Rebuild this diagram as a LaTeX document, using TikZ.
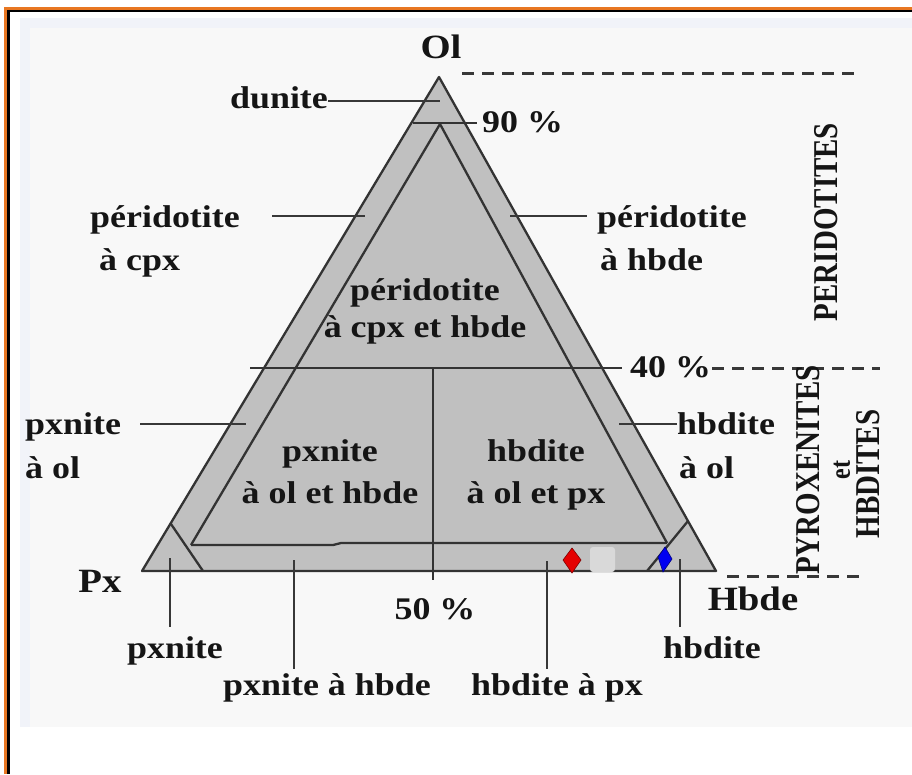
\documentclass[tikz,border=0pt]{standalone}
\usepackage{fontspec}
\setmainfont{Liberation Serif}[FakeStretch=1.14]
\newfontfamily\rotfont{Liberation Serif}
\definecolor{frameorange}{HTML}{E87722}
\definecolor{panelbg}{HTML}{F8F8F8}
\definecolor{panelblue}{HTML}{F1F3F9}
\definecolor{trifill}{HTML}{C0C0C0}
\definecolor{triline}{HTML}{333333}
\definecolor{txt}{HTML}{151515}
\definecolor{patch}{HTML}{D9D9D9}
\tikzset{
  lbl/.style={font=\fontsize{31.5}{33}\selectfont\bfseries, text=txt, inner sep=0pt, anchor=base},
  lblw/.style={lbl, anchor=base west},
  big/.style={font=\fontsize{34}{36}\selectfont\bfseries, text=txt, inner sep=0pt, anchor=base},
  rot/.style={font=\rotfont\fontsize{29}{30}\selectfont\bfseries, text=txt, inner sep=0pt, xscale=1.2, rotate=90},
  tline/.style={draw=triline, line width=2.3pt},
  leader/.style={draw=txt!85, line width=2.3pt},
  dash line/.style={draw=txt!85, line width=3pt, dash pattern=on 12pt off 8pt}
}
\begin{document}
\begin{tikzpicture}[x=1pt,y=-1pt]
\useasboundingbox (0,0) rectangle (912,774);
\fill[white] (0,0) rectangle (912,774);
% panel
\fill[panelbg] (20,18) rectangle (912,727);
\fill[panelblue] (20,18) rectangle (912,28);
\fill[panelblue] (20,18) rectangle (30,727);
% frame
\draw[frameorange, line width=2.5pt] (5.5,774) -- (5.5,8.3) -- (912,8.3);
\draw[black, line width=2.5pt] (8.6,774) -- (8.6,11) -- (912,11);

% triangle
\coordinate (O) at (439,77);
\coordinate (P) at (142,571);
\coordinate (H) at (716,571);
\fill[trifill] (O) -- (P) -- (H) -- cycle;

% internal lines
\coordinate (a90l) at (413,123);
\coordinate (a90r) at (477,123);
\draw[tline] (a90l) -- (a90r);
\coordinate (iapex) at (440,124);
\coordinate (il) at (191,545);
\coordinate (ir) at (667,543);
\coordinate (istep1) at (333,545);
\coordinate (istep2) at (341,543);
\draw[tline] (iapex) -- (il);
\draw[tline] (iapex) -- (ir);
\draw[tline] (il) -- (istep1) -- (istep2) -- (ir);
\coordinate (f40l) at (250,368);
\coordinate (f40r) at (622,368);
\draw[tline] (f40l) -- (f40r);
\coordinate (vtop) at (433,368);
\coordinate (vbot) at (433,580);
\draw[tline] (vtop) -- (vbot);
\coordinate (cpl1) at (171,524);
\coordinate (cpl2) at (203,571);
\draw[tline] (cpl1) -- (cpl2);
\coordinate (chb1) at (688,521);
\coordinate (chb2) at (647,571);
\draw[tline] (chb1) -- (chb2);

% outline
\draw[tline, line join=round] (O) -- (P) -- (H) -- cycle;

% markers
\fill[patch, rounded corners=3pt] (590,547) rectangle (615,572);
\draw[fill=red!90!black, draw=red!50!black, line width=0.6pt] (572,548) -- (581,560) -- (572,573) -- (563,560) -- cycle;
\draw[fill=blue!95!black, draw=blue!50!black, line width=0.6pt] (665,547) -- (672,559) -- (663,572) -- (658,557) -- cycle;

% dashed lines
\coordinate (d1a) at (462,73); \coordinate (d1b) at (858,73);
\draw[dash line] (d1a) -- (d1b);
\coordinate (d2a) at (712,368); \coordinate (d2b) at (880,368);
\draw[dash line] (d2a) -- (d2b);
\coordinate (d3a) at (727,576); \coordinate (d3b) at (865,576);
\draw[dash line] (d3a) -- (d3b);

% vertex labels
\node[big] (nOl) at (441,58) {Ol};
\node[big] (nPx) at (100,592) {Px};
\node[big] (nHb) at (753,610) {Hbde};

% dunite
\node[lbl] (ndun) at (279,108) {dunite};
\coordinate (ldun) at (440,101);
\draw[leader] (ndun.east |- ldun) -- (ldun);
\node[lblw] (n90) at (482,132) {90 \%};

% peridotite left
\node[lblw] (npl1) at (90,227) {péridotite};
\node[lblw] (npl2) at (99,270) {à cpx};
\coordinate (lpl1) at (272,216); \coordinate (lpl2) at (365,216);
\draw[leader] (lpl1) -- (lpl2);
% peridotite right
\node[lblw] (npr1) at (597,227) {péridotite};
\node[lblw] (npr2) at (600,270) {à hbde};
\coordinate (lpr1) at (510,216); \coordinate (lpr2) at (587,216);
\draw[leader] (lpr1) -- (lpr2);
% center
\node[lbl] (npc1) at (425,300) {péridotite};
\node[lbl] (npc2) at (425,337) {à cpx et hbde};
% 40
\node[lblw] (n40) at (630,377) {40 \%};

% pxnite a ol
\node[lblw] (npo1) at (25,434) {pxnite};
\node[lblw] (npo2) at (25,478) {à ol};
\coordinate (lpo1) at (140,424); \coordinate (lpo2) at (246,424);
\draw[leader] (lpo1) -- (lpo2);
% hbdite a ol
\node[lblw] (nho1) at (677,434) {hbdite};
\node[lblw] (nho2) at (679,478) {à ol};
\coordinate (lho1) at (619,424); \coordinate (lho2) at (677,424);
\draw[leader] (lho1) -- (lho2);

% inner labels
\node[lbl] (nip1) at (330,461) {pxnite};
\node[lbl] (nip2) at (330,503) {à ol et hbde};
\node[lbl] (nih1) at (536,461) {hbdite};
\node[lbl] (nih2) at (536,503) {à ol et px};

% bottom
\node[lbl] (n50) at (435,619) {50 \%};
\node[lbl] (nbp) at (175,658) {pxnite};
\coordinate (lbp) at (170,558);
\draw[leader] (lbp) -- (lbp |- 0,627);
\node[lbl] (nbph) at (327,695) {pxnite à hbde};
\coordinate (lbph) at (294,560);
\draw[leader] (lbph) -- (lbph |- 0,669);
\node[lbl] (nbhp) at (557,695) {hbdite à px};
\coordinate (lbhp) at (547,561);
\draw[leader] (lbhp) -- (lbhp |- 0,669);
\node[lbl] (nbh) at (712,658) {hbdite};
\coordinate (lbh) at (680,559);
\draw[leader] (lbh) -- (lbh |- 0,627);

% rotated labels
\node[rot] (nper) at (826,222) {PERIDOTITES};
\node[rot] (npyr) at (808,470) {PYROXENITES};
\node[rot, font=\rotfont\fontsize{24}{26}\selectfont\bfseries] (net) at (842,470) {et};
\node[rot] (nhbd) at (868,474) {HBDITES};
\end{tikzpicture}
\end{document}
